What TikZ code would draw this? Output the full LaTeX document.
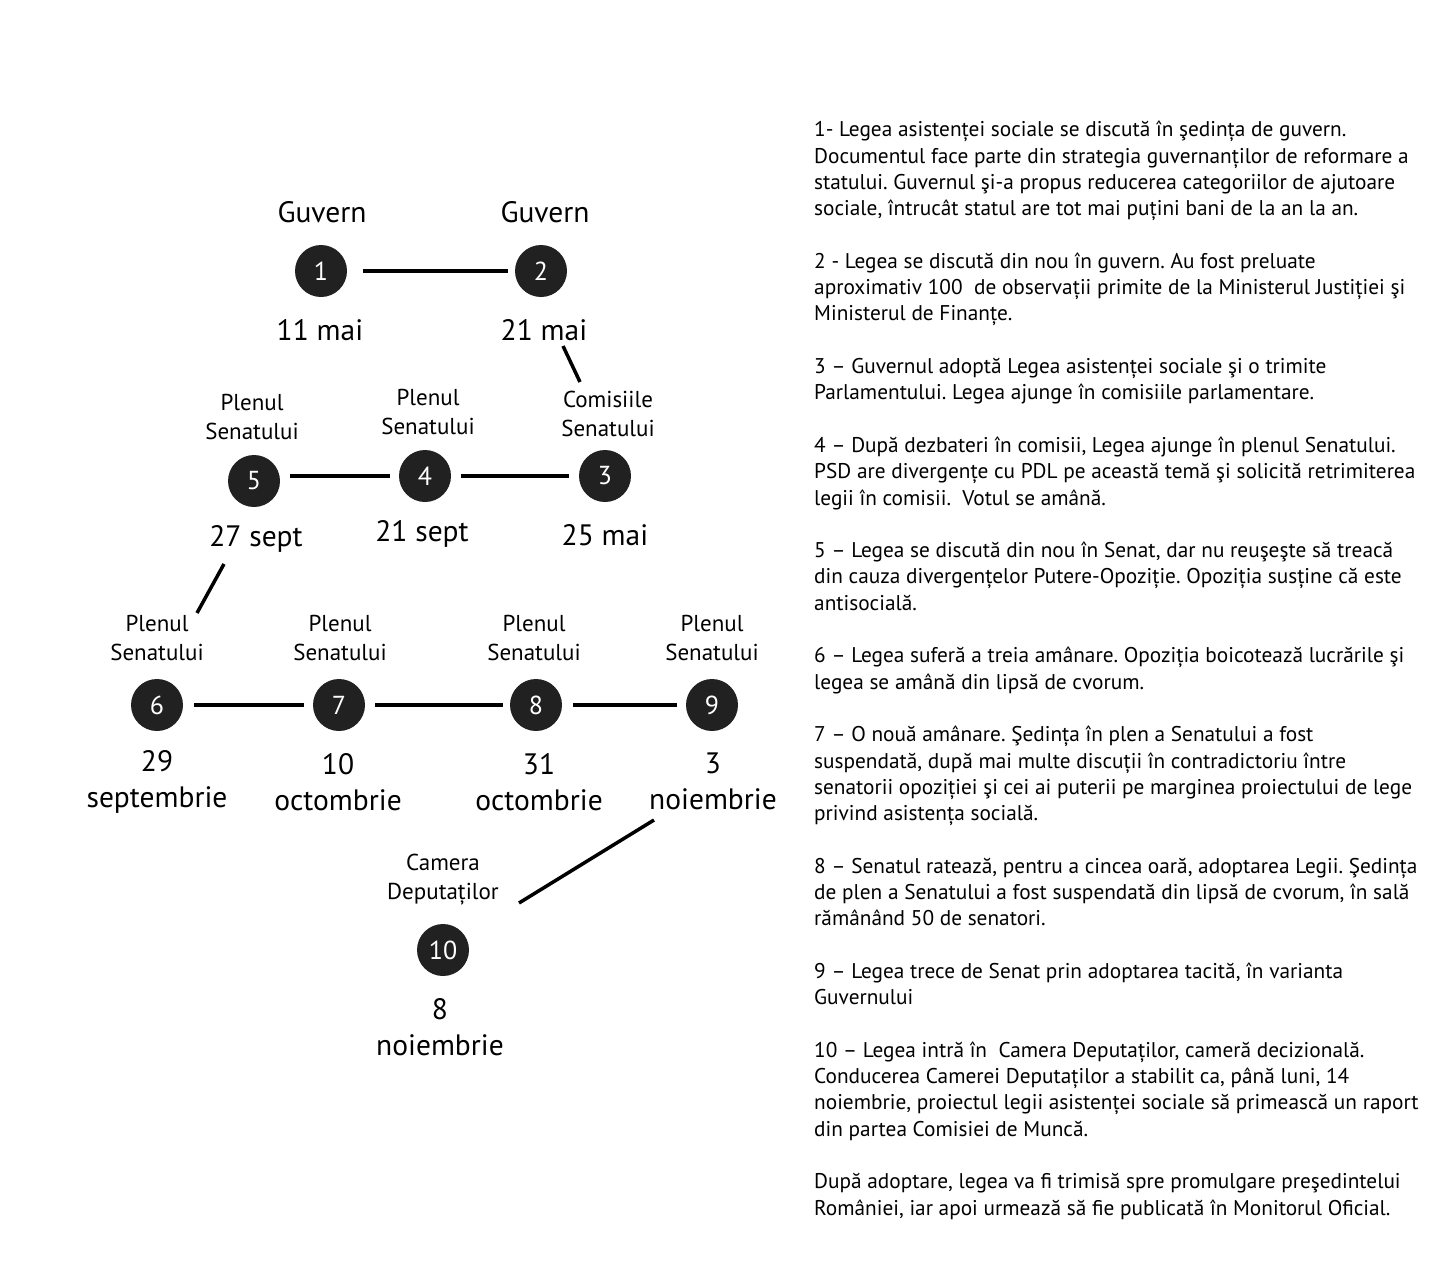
\documentclass[tikz,border=0pt]{standalone}
\usepackage{fontspec}
\setmainfont{PT Sans}
\usetikzlibrary{calc}
\begin{document}
\frenchspacing
\begin{tikzpicture}[x=1pt,y=-1pt,
  stepnode/.style={circle, fill=black!87, minimum size=52pt, inner sep=0pt, text=white, font=\fontsize{26}{26}\selectfont},
  small/.style={align=center, font=\fontsize{23}{29}\selectfont, inner sep=0pt},
  big/.style={align=center, font=\fontsize{29.5}{36}\selectfont, inner sep=0pt},
  conn/.style={line width=4.5pt},
  diag/.style={line width=3.5pt},
  body/.style={align=left, font=\fontsize{21.3}{26.3}\selectfont, inner sep=0pt, anchor=north west}
]
\useasboundingbox[fill=white] (0,0) rectangle (1440,1274);

% row 1
\node[stepnode] (n1) at (321,271) {1};
\node[stepnode] (n2) at (541,271) {2};
\node[big] (t1) at (322,212) {Guvern};
\node[big] (t2) at (545,212) {Guvern};
\node[big] (d1) at (320,330) {11 mai};
\node[big] (d2) at (544,330) {21 mai};
\draw[conn, shorten <=16pt, shorten >=7pt] (n1) -- (n2);

% row 2
\node[stepnode] (n5) at (254,481) {5};
\node[stepnode] (n4) at (425,476) {4};
\node[stepnode] (n3) at (605,476) {3};
\node[small] (t5) at (252,417) {Plenul\\Senatului};
\node[small] (t4) at (428,412) {Plenul\\Senatului};
\node[small] (t3) at (608,414) {Comisiile\\Senatului};
\node[big] (d5) at (256,539) {27 sept};
\node[big] (d4) at (422,534) {21 sept};
\node[big] (d3) at (605,535) {25 mai};
\draw[conn] ($(n5.east |- n4)+(10,0)$) -- ($(n4.west)+(-9,0)$);
\draw[conn, shorten <=10pt, shorten >=10pt] (n4) -- (n3);
\coordinate (a23) at (563,346);
\coordinate (b23) at (580,382);
\draw[diag] (a23) -- (b23);

% row 3
\node[stepnode] (n6) at (157,705) {6};
\node[stepnode] (n7) at (339,705) {7};
\node[stepnode] (n8) at (536,705) {8};
\node[stepnode] (n9) at (712,705) {9};
\node[small] (t6) at (157,638) {Plenul\\Senatului};
\node[small] (t7) at (340,638) {Plenul\\Senatului};
\node[small] (t8) at (534,638) {Plenul\\Senatului};
\node[small] (t9) at (712,638) {Plenul\\Senatului};
\node[big] (d6) at (157,782) {29\\septembrie};
\node[big] (d7) at (338,782) {10\\octombrie};
\node[big] (d8) at (539,782) {31\\octombrie};
\node[big] (d9) at (713,781) {3\\noiembrie};
\draw[conn, shorten <=11pt, shorten >=9pt] (n6) -- (n7);
\draw[conn, shorten <=10pt, shorten >=7pt] (n7) -- (n8);
\draw[conn, shorten <=11pt, shorten >=9pt] (n8) -- (n9);
\coordinate (a56) at (224,564);
\coordinate (b56) at (197,613);
\draw[diag] (a56) -- (b56);

% node 10
\node[stepnode] (n10) at (443,950) {10};
\node[small] (t10) at (443,880) {Camera\\Deputaților};
\node[big] (d10) at (440,1027) {8\\noiembrie};
\coordinate (a910) at (654,820);
\coordinate (b910) at (519,903);
\draw[diag] (a910) -- (b910);

% explanatory text
\node[body] (txt) at (814,121) {%
1- Legea asistenței sociale se discută în şedința de guvern.\\
Documentul face parte din strategia guvernanților de reformare a\\
statului. Guvernul şi-a propus reducerea categoriilor de ajutoare\\
sociale, întrucât statul are tot mai puțini bani de la an la an.\\[26.3pt]
2 - Legea se discută din nou în guvern. Au fost preluate\\
aproximativ 100\ \ de observații primite de la Ministerul Justiției şi\\
Ministerul de Finanțe.\\[26.3pt]
3 – Guvernul adoptă Legea asistenței sociale şi o trimite\\
Parlamentului. Legea ajunge în comisiile parlamentare.\\[26.3pt]
4 – După dezbateri în comisii, Legea ajunge în plenul Senatului.\\
PSD are divergențe cu PDL pe această temă şi solicită retrimiterea\\
legii în comisii.\ \ Votul se amână.\\[26.3pt]
5 – Legea se discută din nou în Senat, dar nu reuşeşte să treacă\\
din cauza divergențelor Putere-Opoziție. Opoziția susține că este\\
antisocială.\\[26.3pt]
6 – Legea suferă a treia amânare. Opoziția boicotează lucrările şi\\
legea se amână din lipsă de cvorum.\\[26.3pt]
7 – O nouă amânare. Şedința în plen a Senatului a fost\\
suspendată, după mai multe discuții în contradictoriu între\\
senatorii opoziției şi cei ai puterii pe marginea proiectului de lege\\
privind asistența socială.\\[26.3pt]
8 – Senatul ratează, pentru a cincea oară, adoptarea Legii. Şedința\\
de plen a Senatului a fost suspendată din lipsă de cvorum, în sală\\
rămânând 50 de senatori.\\[26.3pt]
9 – Legea trece de Senat prin adoptarea tacită, în varianta\\
Guvernului\\[26.3pt]
10 – Legea intră în\ \ Camera Deputaților, cameră decizională.\\
Conducerea Camerei Deputaților a stabilit ca, până luni, 14\\
noiembrie, proiectul legii asistenței sociale să primească un raport\\
din partea Comisiei de Muncă.\\[26.3pt]
După adoptare, legea va fi trimisă spre promulgare preşedintelui\\
României, iar apoi urmează să fie publicată în Monitorul Oficial.};
\end{tikzpicture}
\end{document}
